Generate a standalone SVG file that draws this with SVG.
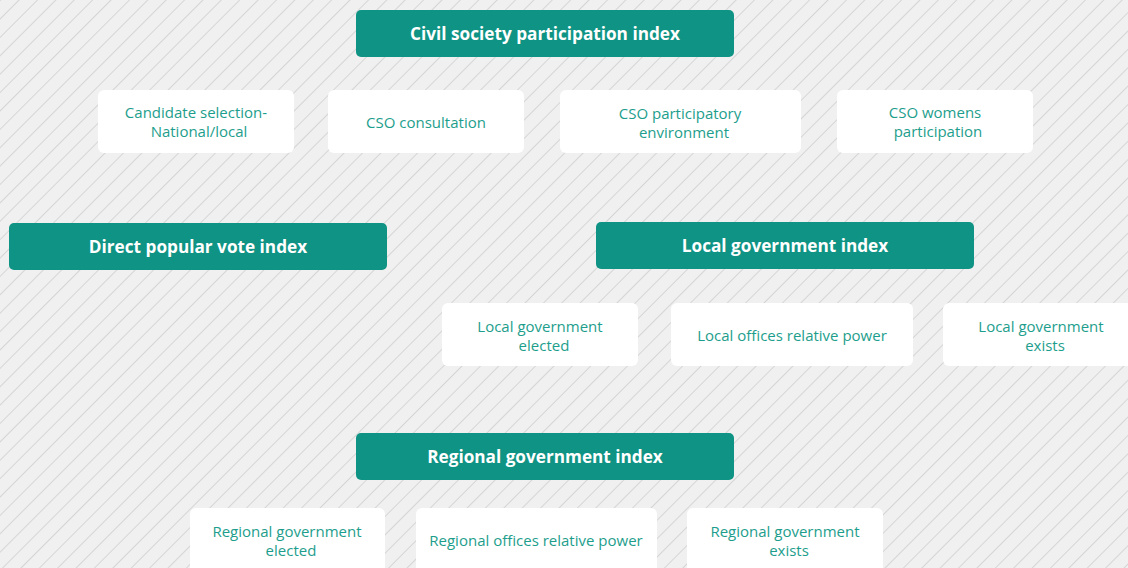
<svg xmlns="http://www.w3.org/2000/svg" width="1128" height="568" viewBox="0 0 1128 568">
<defs>
<pattern id="hatch" patternUnits="userSpaceOnUse" width="13" height="13" patternTransform="rotate(45)">
<rect width="13" height="13" fill="#f0f0f0"/>
<line x1="0" y1="0" x2="0" y2="13" stroke="#c4c4c4" stroke-width="1.2"/>
</pattern>
<style>
.h rect{fill:#0f9384}
.h text{fill:#ffffff;font-family:"Open Sans","Noto Sans",sans-serif;font-weight:700;font-size:17.2px;text-anchor:middle}
.c rect{fill:#ffffff}
.c text{fill:#1d9e8c;font-family:"Open Sans","Noto Sans",sans-serif;font-size:15px;text-anchor:middle}
</style>
</defs>
<rect width="1128" height="568" fill="url(#hatch)"/>
<g id="connectors"></g>
<g id="civil" class="h"><rect x="356" y="10" width="378" height="47" rx="5"/><text x="545" y="40">Civil society participation index</text></g>
<g id="cand" class="c"><rect x="98" y="90" width="196" height="63" rx="6"/><text x="196" y="118">Candidate selection-</text><text x="199" y="137">National/local</text></g>
<g id="csocons" class="c"><rect x="328" y="90" width="196" height="63" rx="6"/><text x="426" y="128">CSO consultation</text></g>
<g id="csoenv" class="c"><rect x="560" y="90" width="241" height="63" rx="6"/><text x="680" y="119">CSO participatory</text><text x="684" y="138">environment</text></g>
<g id="csowom" class="c"><rect x="837" y="90" width="196" height="63" rx="6"/><text x="935" y="118">CSO womens</text><text x="938" y="137">participation</text></g>
<g id="direct" class="h"><rect x="9" y="223" width="378" height="47" rx="5"/><text x="198" y="253">Direct popular vote index</text></g>
<g id="local" class="h"><rect x="596" y="222" width="378" height="47" rx="5"/><text x="785" y="252">Local government index</text></g>
<g id="localel" class="c"><rect x="442" y="303" width="196" height="63" rx="6"/><text x="540" y="332">Local government</text><text x="544" y="351">elected</text></g>
<g id="localpow" class="c"><rect x="671" y="303" width="242" height="63" rx="6"/><text x="792" y="341">Local offices relative power</text></g>
<g id="localex" class="c"><rect x="943" y="303" width="196" height="63" rx="6"/><text x="1041" y="332">Local government</text><text x="1045" y="351">exists</text></g>
<g id="regional" class="h"><rect x="356" y="433" width="378" height="47" rx="5"/><text x="545" y="463">Regional government index</text></g>
<g id="regel" class="c"><rect x="190" y="508" width="195" height="70" rx="6"/><text x="287" y="537">Regional government</text><text x="291" y="556">elected</text></g>
<g id="regpow" class="c"><rect x="416" y="508" width="241" height="70" rx="6"/><text x="536" y="546">Regional offices relative power</text></g>
<g id="regex" class="c"><rect x="687" y="508" width="196" height="70" rx="6"/><text x="785" y="537">Regional government</text><text x="789" y="556">exists</text></g>
</svg>
